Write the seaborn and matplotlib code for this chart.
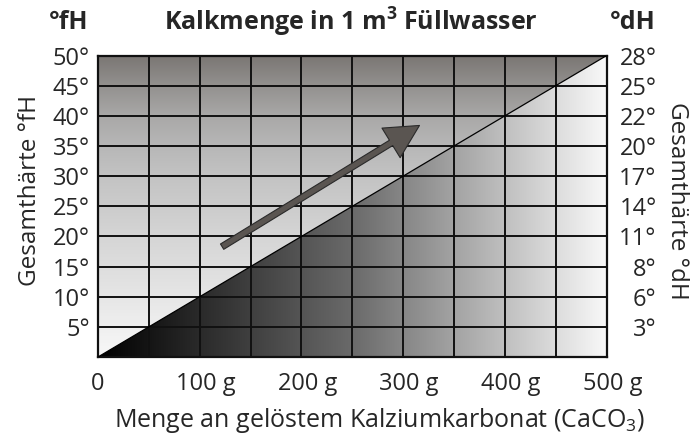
import numpy as np
import matplotlib
matplotlib.use("Agg")
import matplotlib.pyplot as plt
import matplotlib.transforms as mtransforms
from matplotlib.colors import LinearSegmentedColormap
import seaborn as sns

# data
caco3_ticks = [0, 100, 200, 300, 400, 500]
caco3_labels = ["0", "100 g", "200 g", "300 g", "400 g", "500 g"]
caco3_grid = [0, 50, 100, 150, 200, 250, 300, 350, 400, 450, 500]
fh_ticks = [5, 10, 15, 20, 25, 30, 35, 40, 45, 50]
fh_labels = ["5°", "10°", "15°", "20°", "25°", "30°", "35°", "40°", "45°", "50°"]
dh_labels = ["3°", "6°", "8°", "11°", "14°", "17°", "20°", "22°", "25°", "28°"]
line_caco3 = [0, 500]
line_fh = [0, 50]
arrow_start = (122, 18.3)
arrow_end = (316, 38.4)

sns.set_theme(style="white")
plt.rcParams['font.family'] = ['Open Sans', 'DejaVu Sans']
plt.rcParams['mathtext.fontset'] = 'custom'
plt.rcParams['mathtext.rm'] = 'Open Sans'
plt.rcParams['mathtext.bf'] = 'Open Sans:bold'

fig = plt.figure(figsize=(6.97, 4.34), dpi=100)
ax = fig.add_axes([0.1406, 0.1774, 0.7298, 0.6947])

xmax, ymax = caco3_grid[-1], fh_ticks[-1]

# gradient above the line (vertical)
cm_up = LinearSegmentedColormap.from_list("up", [
    (0.0, "#f8f8f8"), (0.2, "#e6e6e6"), (0.4, "#d5d5d5"), (0.6, "#c3c3c3"),
    (0.7, "#b7b7b7"), (0.8, "#a9a8a7"), (0.9, "#93918f"), (1.0, "#7a7673")])
grad_v = np.linspace(0, 1, 256).reshape(-1, 1)
im_up = ax.imshow(grad_v, cmap=cm_up, extent=[0, xmax, 0, ymax], origin="lower",
                  aspect="auto", zorder=0, interpolation="bilinear")
poly_up = ax.fill_between(line_caco3, line_fh, ymax, color="none", lw=0)
im_up.set_clip_path(poly_up.get_paths()[0], transform=ax.transData)

# gradient below the line (horizontal)
cm_low = LinearSegmentedColormap.from_list("low", ["#000000", "#6a6a6a", "#f8f8f8"])
grad_h = np.linspace(0, 1, 256).reshape(1, -1)
im_low = ax.imshow(grad_h, cmap=cm_low, extent=[0, xmax, 0, ymax], origin="lower",
                   aspect="auto", zorder=0, interpolation="bilinear")
poly_low = ax.fill_between(line_caco3, 0, line_fh, color="none", lw=0)
im_low.set_clip_path(poly_low.get_paths()[0], transform=ax.transData)

# diagonal
sns.lineplot(x=line_caco3, y=line_fh, ax=ax, color="black", lw=0.9, zorder=3)

# arrow
ax.annotate("", xy=arrow_end, xytext=arrow_start, zorder=4,
            arrowprops=dict(arrowstyle="simple,head_width=2.5,head_length=2.4,tail_width=0.45",
                            mutation_scale=10, fc="#5a5551", ec="#2a2a2a", lw=0.8,
                            shrinkA=0, shrinkB=0))

ax.set_xlim(0, xmax)
ax.set_ylim(0, ymax)
ax.set_xticks(caco3_ticks)
ax.set_xticklabels(caco3_labels, fontsize=17)
ax.set_xticks(caco3_grid, minor=True)
ax.set_yticks(fh_ticks)
ax.set_yticklabels(fh_labels, fontsize=17)
ax.tick_params(axis="both", which="both", length=0)
ax.tick_params(axis="x", pad=11)
ax.tick_params(axis="y", pad=6)
# labels with unit sit a bit right of their grid line
off = mtransforms.ScaledTranslation(6 / 100, 0, fig.dpi_scale_trans)
for lab in ax.get_xticklabels()[1:]:
    lab.set_transform(lab.get_transform() + off)
ax.set_axisbelow(False)
ax.grid(True, which="both", color="#111111", lw=1.4)
for s in ax.spines.values():
    s.set_color("#111111")
    s.set_linewidth(1.6)

ax2 = ax.twinx()
ax2.set_ylim(0, ymax)
ax2.set_yticks(fh_ticks)
ax2.set_yticklabels(dh_labels, fontsize=17, ha="right")
ax2.tick_params(axis="y", length=0, pad=36)
for s in ax2.spines.values():
    s.set_visible(False)

ax.set_xlabel("Menge an gelöstem Kalziumkarbonat (CaCO$_3$)", fontsize=18, labelpad=7, x=0.554)
fig.text(0.043, 0.56, "Gesamthärte °fH", rotation=90, fontsize=17.5, ha="center", va="center")
fig.text(0.971, 0.537, "Gesamthärte °dH", rotation=-90, fontsize=17.5, ha="center", va="center")

fig.text(0.504, 0.948, r"Kalkmenge in 1 m$^\mathbf{3}$ Füllwasser", fontsize=18,
         fontweight="bold", ha="center", va="center")
fig.text(0.099, 0.948, "°fH", fontsize=18, fontweight="bold", ha="center", va="center")
fig.text(0.908, 0.948, "°dH", fontsize=18, fontweight="bold", ha="center", va="center")

fig.savefig("out.png", dpi=100)
